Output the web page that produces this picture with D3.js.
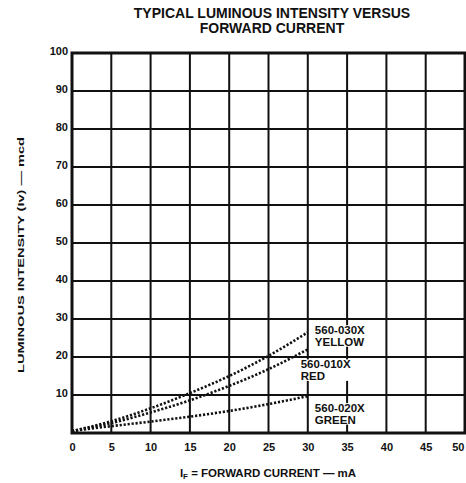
<!DOCTYPE html>
<html>
<head>
<meta charset="utf-8">
<script src="https://cdn.jsdelivr.net/npm/d3@7"></script>
<style>
  body { margin: 0; background: #fff; }
  text { font-family: "Liberation Sans", Arial, sans-serif; font-weight: bold; fill: #111; }
</style>
</head>
<body>
<div id="chart"></div>
<script>
// data
var current = [0, 5, 10, 15, 20, 25, 30];
var yellow = [0.5, 3.1, 6.5, 10.5, 15, 20.3, 26.5];
var red    = [0.5, 2.6, 5.4, 8.6, 12.4, 16.8, 22];
var green  = [0.5, 1.8, 3.0, 4.3, 5.8, 7.6, 9.7];
var seriesNames = [["560-030X", "YELLOW"], ["560-010X", "RED"], ["560-020X", "GREEN"]];
var xTicks = [0, 5, 10, 15, 20, 25, 30, 35, 40, 45, 50];
var yTicks = [10, 20, 30, 40, 50, 60, 70, 80, 90, 100];

var margin = {top: 53, right: 1, bottom: 50, left: 72},
    width = 466 - margin.left - margin.right,
    height = 483 - margin.top - margin.bottom;

var svg = d3.select("#chart").append("svg")
    .attr("width", 466)
    .attr("height", 483);

var g = svg.append("g")
    .attr("transform", "translate(" + margin.left + "," + margin.top + ")");

var x = d3.scaleLinear().domain([0, 50]).range([0, width]);
var y = d3.scaleLinear().domain([0, 100]).range([height, 0]);

// grid lines
g.append("g").selectAll("line").data(xTicks).enter().append("line")
    .attr("x1", function(d) { return x(d); })
    .attr("x2", function(d) { return x(d); })
    .attr("y1", 0).attr("y2", height)
    .attr("stroke", "#111").attr("stroke-width", 2);

g.append("g").selectAll("line").data(yTicks).enter().append("line")
    .attr("x1", 0).attr("x2", width)
    .attr("y1", function(d) { return y(d); })
    .attr("y2", function(d) { return y(d); })
    .attr("stroke", "#111").attr("stroke-width", 2);

// frame
g.append("rect")
    .attr("x", 0).attr("y", 0)
    .attr("width", width).attr("height", height)
    .attr("fill", "none").attr("stroke", "#111").attr("stroke-width", 3);

// axes labels
var xAxis = g.append("g")
    .attr("transform", "translate(0," + height + ")")
    .call(d3.axisBottom(x).tickValues(xTicks).tickSize(0).tickPadding(10));
xAxis.select(".domain").remove();
xAxis.selectAll("text").style("font-size", "11px").attr("fill", "#111").style("font-family", null);
xAxis.selectAll("text").filter(function(d) { return d === 50; })
    .attr("text-anchor", "end").attr("dx", "-1");

var yAxis = g.append("g")
    .call(d3.axisLeft(y).tickValues(yTicks).tickSize(0).tickPadding(4));
yAxis.select(".domain").remove();
yAxis.selectAll("text").style("font-size", "11px").attr("fill", "#111").attr("dy", "0.1em").style("font-family", null);

// curves
var line = d3.line()
    .x(function(d, i) { return x(current[i]); })
    .y(function(d) { return y(d); })
    .curve(d3.curveMonotoneX);

[yellow, red, green].forEach(function(s) {
  g.append("path")
    .attr("d", line(s))
    .attr("fill", "none")
    .attr("stroke", "#111")
    .attr("stroke-width", 2.6)
    .attr("stroke-dasharray", "2.2,1.8");
});

// curve labels, with white knock-out behind them
var labelPos = [[30.9, 26], [29.1, 17], [30.9, 5.5]];
seriesNames.forEach(function(n, i) {
  var lg = g.append("g");
  var bg = lg.append("rect").attr("fill", "#fff");
  var t = lg.append("text")
    .attr("x", x(labelPos[i][0]))
    .attr("y", y(labelPos[i][1]))
    .style("font-size", "11.5px");
  t.append("tspan").attr("x", x(labelPos[i][0])).text(n[0]);
  t.append("tspan").attr("x", x(labelPos[i][0])).attr("dy", "1.0em").text(n[1]);
  var b = t.node().getBBox();
  bg.attr("x", b.x).attr("y", b.y + 1).attr("width", b.width).attr("height", b.height - 2);
});

// title
svg.append("text").attr("x", 272).attr("y", 18).attr("text-anchor", "middle")
    .style("font-size", "14px").text("TYPICAL LUMINOUS INTENSITY VERSUS");
svg.append("text").attr("x", 272).attr("y", 33).attr("text-anchor", "middle")
    .style("font-size", "14px").text("FORWARD CURRENT");

// axis titles
var xt = svg.append("text").attr("x", 268).attr("y", 477).attr("text-anchor", "middle")
    .style("font-size", "11.5px");
xt.append("tspan").text("I");
xt.append("tspan").attr("dy", "2").style("font-size", "8px").text("F");
xt.append("tspan").attr("dy", "-2").text(" = FORWARD CURRENT \u2014 mA");

svg.append("text")
    .attr("transform", "translate(24,255) rotate(-90)")
    .attr("text-anchor", "middle")
    .attr("textLength", 236)
    .attr("lengthAdjust", "spacingAndGlyphs")
    .style("font-size", "9.5px")
    .text("LUMINOUS INTENSITY (Iv) \u2014 mcd");
</script>
</body>
</html>
